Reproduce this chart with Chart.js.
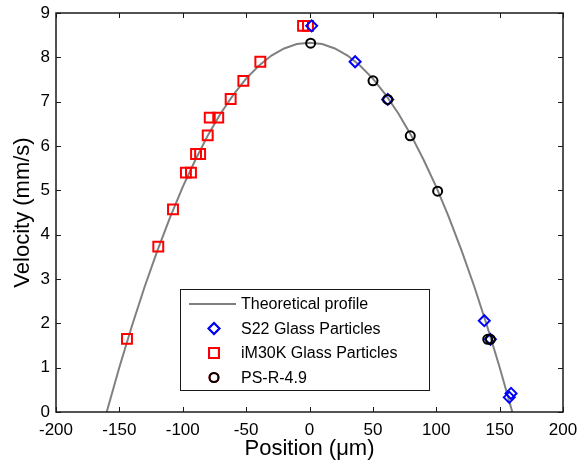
<!DOCTYPE html>
<html>
<head>
<meta charset="utf-8">
<script src="https://cdn.jsdelivr.net/npm/chart.js@4/dist/chart.umd.min.js"></script>
<style>
  html, body { margin: 0; padding: 0; background: #fff; }
  #wrap { width: 579px; height: 466px; }
</style>
</head>
<body>
<div id="wrap"><canvas id="velChart" width="579" height="466"></canvas></div>
<script>
// theoretical profile
const profileX = [-160, -150, -140, -130, -120, -110, -100, -90, -80, -70, -60, -50, -40, -30, -20, -10, 0,
                  10, 20, 30, 40, 50, 60, 70, 80, 90, 100, 110, 120, 130, 140, 150, 160];
const profileV = [0, 1.01, 1.95, 2.83, 3.64, 4.39, 5.08, 5.69, 6.25, 6.74, 7.16, 7.52, 7.81, 8.04, 8.20, 8.30, 8.33,
                  8.30, 8.20, 8.04, 7.81, 7.52, 7.16, 6.74, 6.25, 5.69, 5.08, 4.39, 3.64, 2.83, 1.95, 1.01, 0];

// S22 glass particles (blue diamonds)
const s22X = [1.7, 36, 61.7, 137.9, 142.7, 157.6, 159];
const s22V = [8.71, 7.90, 7.05, 2.06, 1.64, 0.33, 0.42];

// iM30K glass particles (red squares)
const im30X = [-144, -119.3, -107.7, -97.5, -93.5, -89.5, -86.3, -80.3, -78.7, -72, -62.2, -52.2, -38.8, -5.1, -1.2];
const im30V = [1.65, 3.73, 4.57, 5.40, 5.40, 5.82, 5.82, 6.24, 6.64, 6.64, 7.06, 7.47, 7.90, 8.71, 8.71];

// PS-R-4.9 (black circles)
const psX = [0.9, 50.1, 61.7, 79.5, 101.1, 140.6, 142.7];
const psV = [8.32, 7.47, 7.05, 6.23, 4.98, 1.64, 1.64];

const xTicks = [-200, -150, -100, -50, 0, 50, 100, 150, 200];
const yTicks = [0, 1, 2, 3, 4, 5, 6, 7, 8, 9];

const legendLabels = ['Theoretical profile', 'S22 Glass Particles', 'iM30K Glass Particles', 'PS-R-4.9'];

const FONT = '"Liberation Sans", Arial, sans-serif';

function pts(xs, ys) {
    return xs.map((x, i) => ({ x: x, y: ys[i] }));
}

// matlab-ish box with inward ticks on all four sides
const boxPlugin = {
    id: 'box',
    afterDraw(chart) {
        const ctx = chart.ctx;
        const a = chart.chartArea;
        const xs = chart.scales.x, ys = chart.scales.y;
        const len = 5;
        ctx.save();
        ctx.strokeStyle = '#1a1a1a';
        ctx.lineWidth = 1.5;
        ctx.strokeRect(a.left, a.top, a.right - a.left, a.bottom - a.top);
        ctx.lineWidth = 1;
        ctx.beginPath();
        xTicks.forEach(v => {
            const px = Math.round(xs.getPixelForValue(v)) + 0.5;
            ctx.moveTo(px, a.bottom); ctx.lineTo(px, a.bottom - len);
            ctx.moveTo(px, a.top); ctx.lineTo(px, a.top + len);
        });
        yTicks.forEach(v => {
            const py = Math.round(ys.getPixelForValue(v)) + 0.5;
            ctx.moveTo(a.left, py); ctx.lineTo(a.left + len, py);
            ctx.moveTo(a.right, py); ctx.lineTo(a.right - len, py);
        });
        ctx.stroke();
        ctx.restore();
    }
};

// legend box inside the plot
const legendPlugin = {
    id: 'innerLegend',
    afterDraw(chart) {
        const ctx = chart.ctx;
        const bx = 180, by = 289, bw = 249, bh = 101;
        const rows = [304, 328.5, 353, 377.5];
        const mx = 214, tx = 241;
        ctx.save();
        ctx.fillStyle = '#fff';
        ctx.fillRect(bx, by, bw, bh);
        ctx.strokeStyle = '#1a1a1a';
        ctx.lineWidth = 1;
        ctx.strokeRect(bx + 0.5, by + 0.5, bw, bh);

        const ds = chart.data.datasets;
        // line sample
        ctx.strokeStyle = ds[0].borderColor;
        ctx.lineWidth = ds[0].borderWidth;
        ctx.beginPath();
        ctx.moveTo(189, rows[0]); ctx.lineTo(236, rows[0]);
        ctx.stroke();
        // markers
        for (let i = 1; i < 4; i++) {
            Chart.helpers.drawPoint(ctx, {
                pointStyle: ds[i].pointStyle,
                radius: ds[i].pointRadius,
                borderWidth: ds[i].pointBorderWidth
            }, mx, rows[i]);
            ctx.strokeStyle = ds[i].pointBorderColor;
            ctx.lineWidth = ds[i].pointBorderWidth;
            ctx.stroke();
        }
        ctx.fillStyle = '#000';
        ctx.font = '16px ' + FONT;
        ctx.textBaseline = 'middle';
        ctx.textAlign = 'left';
        legendLabels.forEach((t, i) => ctx.fillText(t, tx, rows[i] + 1));
        ctx.restore();
    }
};

const chart = new Chart(document.getElementById('velChart'), {
    type: 'scatter',
    data: {
        datasets: [
            {
                label: legendLabels[0],
                data: pts(profileX, profileV),
                showLine: true,
                borderColor: '#808080',
                borderWidth: 2,
                pointRadius: 0,
                tension: 0,
                order: 4
            },
            {
                label: legendLabels[1],
                data: pts(s22X, s22V),
                pointStyle: 'rectRot',
                pointRadius: 5.5,
                pointBorderWidth: 2,
                pointBorderColor: '#0000ff',
                pointBackgroundColor: 'rgba(0,0,0,0)',
                order: 2
            },
            {
                label: legendLabels[2],
                data: pts(im30X, im30V),
                pointStyle: 'rect',
                pointRadius: 7,
                pointBorderWidth: 2,
                pointBorderColor: '#ff0000',
                pointBackgroundColor: 'rgba(0,0,0,0)',
                order: 3
            },
            {
                label: legendLabels[3],
                data: pts(psX, psV),
                pointStyle: 'circle',
                pointRadius: 4.5,
                pointBorderWidth: 2,
                pointBorderColor: '#000000',
                pointBackgroundColor: 'rgba(0,0,0,0)',
                order: 1
            }
        ]
    },
    options: {
        responsive: false,
        animation: false,
        devicePixelRatio: 1,
        layout: { padding: { top: 13, right: 16, left: 0, bottom: 0 } },
        plugins: {
            legend: { display: false },
            tooltip: { enabled: false }
        },
        scales: {
            x: {
                type: 'linear',
                min: -200,
                max: 200,
                afterBuildTicks: s => { s.ticks = xTicks.map(v => ({ value: v })); },
                afterFit: s => {
                    s.height = 54;
                    s.paddingLeft = 0;
                    s.paddingRight = 0;
                },
                grid: { display: false, drawTicks: false },
                border: { display: false },
                ticks: {
                    color: '#000',
                    padding: 8,
                    maxRotation: 0,
                    font: { family: FONT, size: 17 }
                },
                title: {
                    display: true,
                    text: 'Position (μm)',
                    color: '#000',
                    font: { family: FONT, size: 22 },
                    padding: { top: 0, bottom: 4 }
                }
            },
            y: {
                min: 0,
                max: 9,
                afterBuildTicks: s => { s.ticks = yTicks.map(v => ({ value: v })); },
                afterFit: s => {
                    s.width = 56;
                    s.paddingTop = 0;
                    s.paddingBottom = 0;
                },
                grid: { display: false, drawTicks: false },
                border: { display: false },
                ticks: {
                    color: '#000',
                    padding: 6,
                    font: { family: FONT, size: 17 }
                },
                title: {
                    display: true,
                    text: 'Velocity (mm/s)',
                    color: '#000',
                    font: { family: FONT, size: 22 },
                    padding: { top: 10, bottom: 0 }
                }
            }
        }
    },
    plugins: [boxPlugin, legendPlugin]
});
</script>
</body>
</html>
